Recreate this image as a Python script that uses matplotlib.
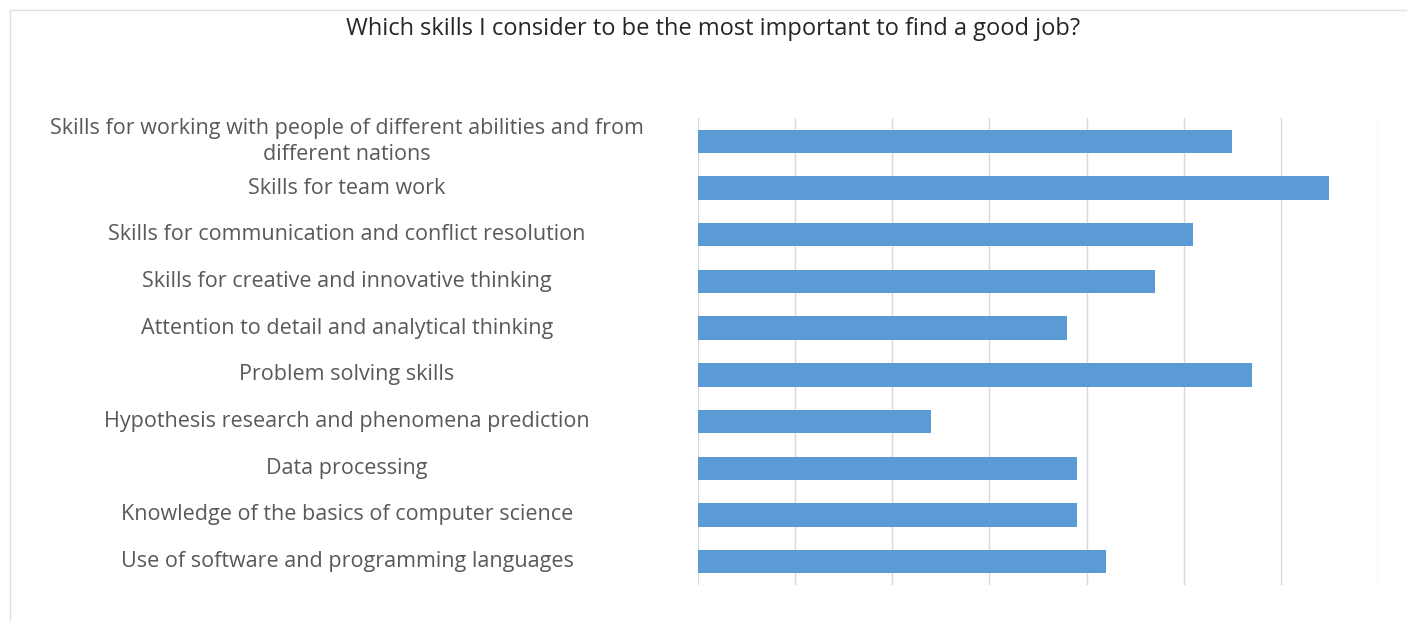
import numpy as np
import matplotlib.pyplot as plt
from matplotlib.patches import Rectangle

plt.rcParams['font.family'] = ['Open Sans', 'DejaVu Sans']

#%%==============================================================================
# Data (one grid step = 10)

skills = ["Skills for working with people of different abilities and from\ndifferent nations",
          "Skills for team work",
          "Skills for communication and conflict resolution",
          "Skills for creative and innovative thinking",
          "Attention to detail and analytical thinking",
          "Problem solving skills",
          "Hypothesis research and phenomena prediction",
          "Data processing",
          "Knowledge of the basics of computer science",
          "Use of software and programming languages"]
scores = [55, 65, 51, 47, 38, 57, 24, 39, 39, 42]

title = "Which skills I consider to be the most important to find a good job?"

#%%==============================================================================
# Plot

W, H = 1407, 621
fig = plt.figure(figsize=(W / 100, H / 100), dpi=100)
fig.patch.set_facecolor('white')

# light frame round the chart area
fig.patches.append(Rectangle((10 / W, -0.05), 1.1, 1 - 10 / H + 0.05, transform=fig.transFigure,
                             fill=False, edgecolor='#e0e0e0', linewidth=1.0))

ax = fig.add_axes([698 / W, 1 - 585 / H, (1378 - 698) / W, (585 - 118) / H])
y = np.arange(len(skills))
ax.barh(y, scores, height=0.5, color='#5b9bd5', zorder=3)

ax.set_xlim(0, 70)
ax.set_ylim(len(skills) - 0.5, -0.5)
ax.set_xticks(np.arange(0, 71, 10))
ax.xaxis.grid(True, color='#d9d9d9', linewidth=1.0, zorder=0)
ax.tick_params(left=False, bottom=False, labelleft=False, labelbottom=False)
for s in ax.spines.values():
    s.set_visible(False)

# category labels, centred in the left column like the original
for yi, lab in zip(y, skills):
    ax.annotate(lab, xy=(347 / W, yi), xycoords=('figure fraction', 'data'),
                ha='center', va='center', fontsize=15.5, color='#595959', linespacing=1.3)

fig.text(713 / W, 1 - 29 / H, title, ha='center', va='center', fontsize=17, color='#262626')

plt.savefig('out.png', dpi=100)
